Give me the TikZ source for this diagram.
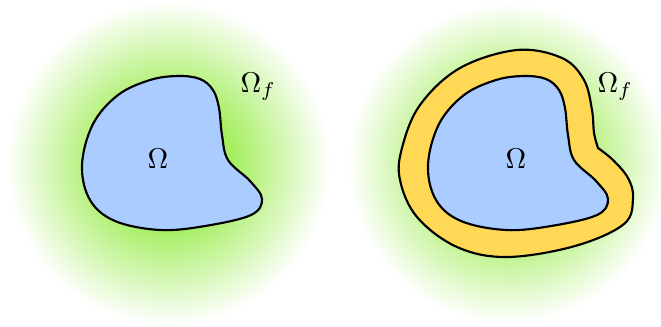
\documentclass[tikz,border=0pt]{standalone}
\definecolor{gcol}{RGB}{165,238,96}
\definecolor{bcol}{RGB}{170,204,255}
\definecolor{ycol}{RGB}{255,217,85}
\pgfdeclareradialshading{greenfade}{\pgfpoint{0bp}{0bp}}{color(0bp)=(gcol); color(10bp)=(gcol); color(25bp)=(white); color(50bp)=(white)}
\begin{document}
\begin{tikzpicture}[x=0.35pt,y=-0.35pt,
  blob/.style={draw=black,line width=0.75pt,fill=bcol},
  ring/.style={draw=black,line width=0.75pt,fill=ycol},
  halo/.style={shading=greenfade}]
\useasboundingbox (0,0) rectangle (661,326);
% halos
\shade[halo] (168,163) circle (162);
\shade[halo] (508,163) circle (160);
% left domain
\draw[blob] plot[smooth cycle,tension=0.6] coordinates{(178,76) (200,79) (213,90) (219,108) (222,135) (228,160) (250,181) (262,199) (251,215) (205,226) (160,230) (115,221) (90,200) (82,165) (93,124) (118,95) (150,80)};
% right ring (outer)
\draw[ring] plot[smooth,tension=0.6] coordinates{(598,148) (613,160) (628,178) (633,198) (624,224) (575,246) (507,257) (457,247) (417,217) (400,180) (402,148) (420,105) (460,68) (517,50) (562,58) (584,80) (592,110) (594,133) (598,148)} -- cycle;
% right domain
\begin{scope}[xshift=346*0.35pt]
\draw[blob] plot[smooth cycle,tension=0.6] coordinates{(178,76) (200,79) (213,90) (219,108) (222,135) (228,160) (250,181) (262,199) (251,215) (205,226) (160,230) (115,221) (90,200) (82,165) (93,124) (118,95) (150,80)};
\end{scope}
% labels
\node[anchor=base west,inner sep=0pt] (omL) at (147,168) {$\Omega$};
\node[anchor=base west,inner sep=0pt] (omfL) at (240,92) {$\Omega_f$};
\node[anchor=base west,inner sep=0pt] (omR) at (505,168) {$\Omega$};
\node[anchor=base west,inner sep=0pt] (omfR) at (597,92) {$\Omega_f$};
\end{tikzpicture}
\end{document}
